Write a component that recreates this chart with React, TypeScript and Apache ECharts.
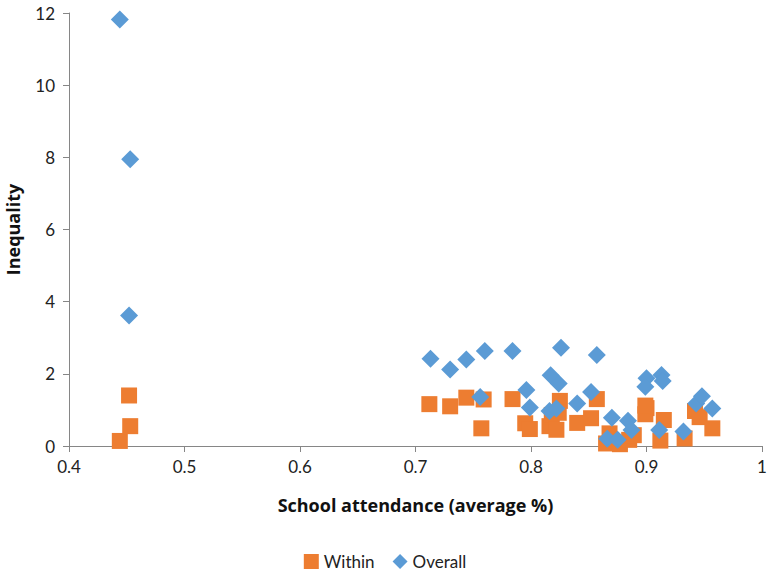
import React, { useEffect, useRef } from "react";
import * as echarts from "echarts";

const withinX = [0.444, 0.452, 0.453, 0.712, 0.730, 0.744, 0.759, 0.757, 0.784, 0.795, 0.799, 0.816, 0.818, 0.822, 0.825, 0.824, 0.840, 0.852, 0.857, 0.865, 0.868, 0.877, 0.885, 0.889, 0.900, 0.899, 0.912, 0.915, 0.933, 0.942, 0.946, 0.957, 0.899];
const withinY = [0.14, 1.40, 0.55, 1.16, 1.10, 1.34, 1.29, 0.49, 1.30, 0.63, 0.47, 0.55, 0.86, 0.45, 1.25, 0.92, 0.64, 0.77, 1.30, 0.07, 0.35, 0.05, 0.17, 0.30, 1.05, 0.88, 0.15, 0.72, 0.21, 0.97, 0.80, 0.49, 1.12];

const overallX = [0.444, 0.453, 0.452, 0.713, 0.730, 0.744, 0.760, 0.756, 0.784, 0.796, 0.799, 0.817, 0.824, 0.826, 0.816, 0.822, 0.840, 0.852, 0.857, 0.866, 0.870, 0.875, 0.884, 0.887, 0.900, 0.899, 0.913, 0.914, 0.911, 0.932, 0.943, 0.948, 0.957];
const overallY = [11.82, 7.95, 3.62, 2.42, 2.12, 2.40, 2.63, 1.36, 2.63, 1.55, 1.07, 1.96, 1.73, 2.72, 0.97, 1.04, 1.18, 1.50, 2.52, 0.20, 0.78, 0.17, 0.70, 0.44, 1.88, 1.64, 1.97, 1.80, 0.44, 0.40, 1.18, 1.38, 1.04];

const seriesNames = ["Within", "Overall"];
const xTitle = "School attendance (average %)";
const yTitle = "Inequality";

const FONT = "Lato, 'Open Sans', sans-serif";
const TITLE_FONT = "'Open Sans', sans-serif";

export default function App() {
  const ref = useRef<HTMLDivElement>(null);
  useEffect(() => {
    if (!ref.current) return;
    const chart = echarts.init(ref.current, null, { renderer: "svg" });
    const axisColor = "#868686";
    chart.setOption({
      animation: false,
      textStyle: { fontFamily: FONT },
      grid: { left: 69, right: 8, top: 13, bottom: 129, containLabel: false, outerBoundsMode: "none" },
      legend: {
        bottom: 0,
        left: "center",
        itemWidth: 15,
        itemHeight: 15,
        itemGap: 18,
        textStyle: { fontSize: 17, color: "#222", fontFamily: FONT },
        data: [
          { name: seriesNames[0], icon: "rect" },
          { name: seriesNames[1], icon: "diamond" },
        ],
      },
      xAxis: {
        type: "value",
        min: 0.4,
        max: 1,
        interval: 0.1,
        name: xTitle,
        nameLocation: "middle",
        nameGap: 50,
        nameTextStyle: { fontSize: 18, fontWeight: "bold", color: "#111", fontFamily: TITLE_FONT },
        axisLine: { show: true, lineStyle: { color: axisColor, width: 1 } },
        axisTick: { show: true, inside: false, length: 6, lineStyle: { color: axisColor } },
        axisLabel: {
          fontSize: 17,
          color: "#222",
          margin: 12,
          formatter: (v: number) => String(parseFloat(v.toFixed(1))),
        },
        splitLine: { show: false },
      },
      yAxis: {
        type: "value",
        min: 0,
        max: 12,
        interval: 2,
        name: yTitle,
        nameLocation: "middle",
        nameGap: 47,
        nameTextStyle: { fontSize: 18, fontWeight: "bold", color: "#111", fontFamily: TITLE_FONT },
        axisLine: { show: true, lineStyle: { color: axisColor, width: 1 } },
        axisTick: { show: true, inside: false, length: 6, lineStyle: { color: axisColor } },
        axisLabel: { fontSize: 17, color: "#222", margin: 14 },
        splitLine: { show: false },
      },
      series: [
        {
          name: seriesNames[0],
          type: "scatter",
          symbol: "rect",
          symbolSize: 16,
          itemStyle: { color: "#ED7D31", opacity: 1 },
          data: withinX.map((x, i) => [x, withinY[i]]),
        },
        {
          name: seriesNames[1],
          type: "scatter",
          symbol: "diamond",
          symbolSize: 18,
          itemStyle: { color: "#5B9BD5", opacity: 1 },
          data: overallX.map((x, i) => [x, overallY[i]]),
        },
      ],
    });
    return () => chart.dispose();
  }, []);
  return <div ref={ref} style={{ width: 770, height: 575, position: "absolute", left: 0, top: 0 }} />;
}
